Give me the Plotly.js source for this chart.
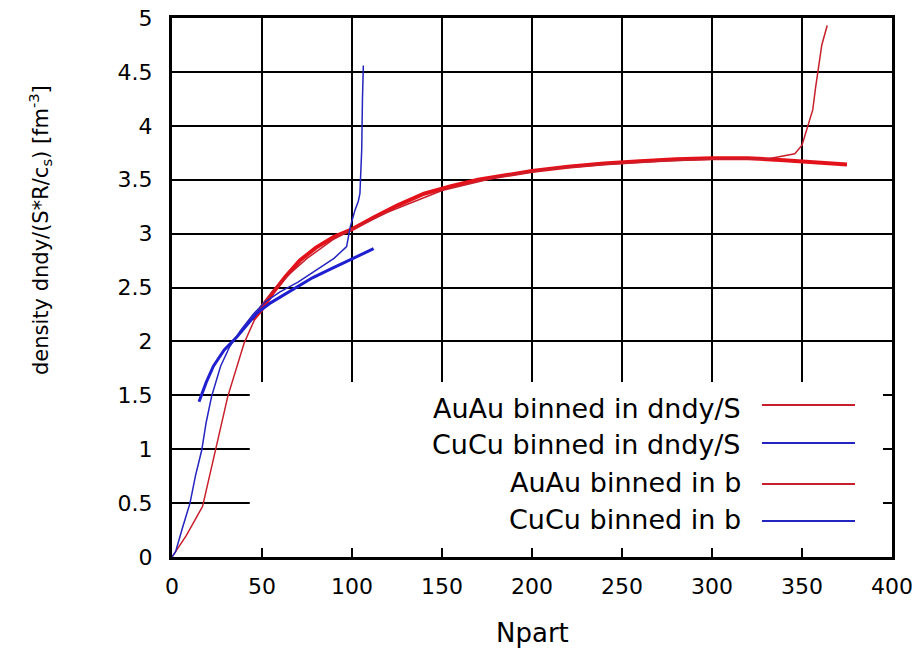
<!DOCTYPE html>
<html>
<head>
<meta charset="utf-8">
<script src="https://cdn.plot.ly/plotly-3.0.1.min.js"></script>
<style>
  html, body { margin: 0; padding: 0; background: #fff; }
  #chart { width: 924px; height: 652px; }
</style>
</head>
<body>
<div id="chart"></div>
<script>
// AuAu collisions, events binned in dN/dy / S
const auauDndyNpart = [45, 50, 56, 63, 71, 80, 90, 100, 112, 125, 140, 155, 170, 185, 200, 220, 240, 260, 280, 300, 320, 340, 360, 375];
const auauDndyDens  = [2.2, 2.3, 2.45, 2.6, 2.75, 2.87, 2.97, 3.04, 3.15, 3.26, 3.37, 3.44, 3.5, 3.54, 3.58, 3.62, 3.65, 3.67, 3.69, 3.7, 3.7, 3.68, 3.66, 3.64];

// AuAu collisions, events binned in impact parameter b
const auauBNpart = [0, 8, 17, 24, 31, 40, 49, 56, 65, 75, 90, 100, 120, 150, 180, 210, 240, 270, 300, 330, 346, 350, 353, 356, 357.5, 359, 361, 364];
const auauBDens  = [0, 0.2, 0.47, 0.99, 1.49, 1.98, 2.32, 2.47, 2.62, 2.77, 2.95, 3.04, 3.2, 3.4, 3.52, 3.6, 3.64, 3.67, 3.69, 3.69, 3.74, 3.82, 3.99, 4.15, 4.35, 4.52, 4.75, 4.93];

// CuCu collisions, events binned in dN/dy / S
const cucuDndyNpart = [15, 19, 23, 29, 36, 42, 47, 55, 62, 69, 78, 88, 98, 106, 112];
const cucuDndyDens  = [1.44, 1.62, 1.77, 1.92, 2.04, 2.16, 2.26, 2.36, 2.43, 2.5, 2.59, 2.67, 2.75, 2.81, 2.86];

// CuCu collisions, events binned in impact parameter b
const cucuBNpart = [0, 2, 6, 10, 13, 16.5, 19, 22, 27, 32, 38, 45, 52, 60, 70, 80, 90, 97, 99, 101.7, 103.5, 104.4, 105.4, 105.8, 106.3];
const cucuBDens  = [0, 0.05, 0.28, 0.5, 0.75, 0.99, 1.25, 1.49, 1.77, 1.95, 2.1, 2.25, 2.37, 2.46, 2.55, 2.66, 2.77, 2.88, 3.06, 3.22, 3.3, 3.37, 3.78, 4.24, 4.56];

const legendLabels = ['AuAu binned in dndy/S', 'CuCu binned in dndy/S', 'AuAu binned in b', 'CuCu binned in b'];
const xTicks = [0, 50, 100, 150, 200, 250, 300, 350, 400];
const yTicks = [0, 0.5, 1, 1.5, 2, 2.5, 3, 3.5, 4, 4.5, 5];

const RED = '#e3121a';
const RED_THIN = '#c81f2c';
const BLUE = '#1f1fd0';
const BLUE_THIN = '#2424c0';

const traces = [
  { x: auauDndyNpart, y: auauDndyDens, name: legendLabels[0], mode: 'lines',
    line: { color: RED, width: 4 } },
  { x: auauBNpart, y: auauBDens, name: legendLabels[2], mode: 'lines',
    line: { color: RED_THIN, width: 1.5 } },
  { x: cucuDndyNpart, y: cucuDndyDens, name: legendLabels[1], mode: 'lines',
    line: { color: BLUE, width: 3 } },
  { x: cucuBNpart, y: cucuBDens, name: legendLabels[3], mode: 'lines',
    line: { color: BLUE_THIN, width: 1.5 } }
];

const FONT = 'DejaVu Sans, sans-serif';

const axisCommon = {
  showline: true, linecolor: '#000', linewidth: 3, mirror: 'ticks',
  ticks: 'inside', ticklen: 8, tickwidth: 2, tickcolor: '#000',
  showgrid: true, gridcolor: '#000', gridwidth: 2,
  zeroline: false, fixedrange: true,
  tickfont: { family: FONT, size: 22, color: '#000' }
};

// key: right-aligned labels with line samples to their right
const legendTextY = [0.2764, 0.2078, 0.1373, 0.0687];
const legendLineY = [0.282, 0.2115, 0.1354, 0.0668];
const legendColors = [RED_THIN, BLUE_THIN, RED_THIN, BLUE_THIN];

const annotations = legendLabels.map((t, i) => ({
  xref: 'paper', yref: 'paper', x: 0.793, y: legendTextY[i],
  xanchor: 'right', yanchor: 'middle', showarrow: false, text: t,
  font: { family: FONT, size: 27, color: '#000' }
}));
annotations.push({
  xref: 'paper', yref: 'paper', x: 0.5, y: -0.141, xanchor: 'center', yanchor: 'middle',
  showarrow: false, text: 'Npart', font: { family: FONT, size: 26, color: '#000' }
});
annotations.push({
  xref: 'paper', yref: 'paper', x: -0.1833, y: 0.6067, xanchor: 'center', yanchor: 'middle',
  showarrow: false, textangle: -90,
  text: 'density dndy/(S*R/c<sub>s</sub>) [fm<sup>-3</sup>]',
  font: { family: FONT, size: 21, color: '#000' }
});

const shapes = [
  // opaque key background; stops short of the frame so the inner ticks stay visible
  { type: 'rect', xref: 'paper', yref: 'paper', x0: 0.108, x1: 0.9875, y0: 0.0165, y1: 0.3247,
    fillcolor: '#fff', line: { width: 0 }, layer: 'above' }
];
legendLineY.forEach((yy, i) => {
  shapes.push({
    type: 'line', xref: 'paper', yref: 'paper', x0: 0.8194, x1: 0.9486,
    y0: yy, y1: yy, line: { color: legendColors[i], width: 2 }, layer: 'above'
  });
});

const layout = {
  width: 924, height: 652,
  margin: { l: 172, r: 32, t: 18, b: 95 },
  paper_bgcolor: '#fff', plot_bgcolor: '#fff',
  showlegend: false,
  xaxis: Object.assign({}, axisCommon, {
    range: [0, 400], tickvals: xTicks, ticktext: xTicks.map(String), ticklabelstandoff: 8
  }),
  yaxis: Object.assign({}, axisCommon, {
    range: [0, 5], tickvals: yTicks, ticktext: yTicks.map(String), ticklabelstandoff: 12
  }),
  annotations: annotations,
  shapes: shapes
};

Plotly.newPlot('chart', traces, layout, { staticPlot: true, displayModeBar: false });
</script>
</body>
</html>
